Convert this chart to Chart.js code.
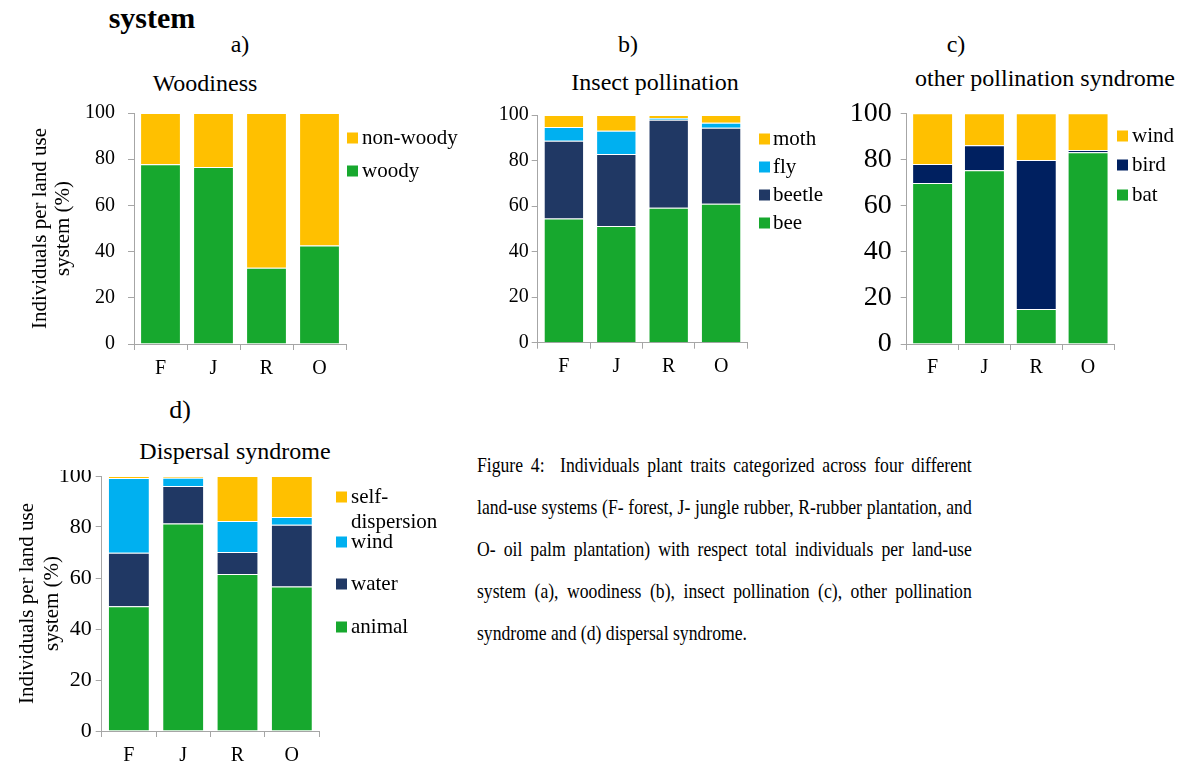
<!DOCTYPE html>
<html><head><meta charset="utf-8">
<script src="https://cdn.jsdelivr.net/npm/chart.js@4"></script>
<style>
body{margin:0;width:1181px;height:767px;background:#fff;position:relative;overflow:hidden;font-family:"Liberation Serif","Tinos","Times New Roman","DejaVu Serif",serif;color:#000}
canvas{position:absolute}
.t{position:absolute;white-space:nowrap;transform:translate(-50%,-50%);line-height:1}
#cap{position:absolute;left:477px;top:444px;width:589px;font-size:21px;line-height:42px;transform:scaleX(0.84);transform-origin:0 0}
#cap div{text-align:justify;text-align-last:justify;white-space:nowrap}
#cap div.last{text-align-last:left}
</style></head>
<body>
<div class="t" style="left:152px;top:18px;font-size:30px;font-weight:bold">system</div>
<div class="t" style="left:240px;top:44px;font-size:24px">a)</div>
<div class="t" style="left:628px;top:44px;font-size:24px">b)</div>
<div class="t" style="left:956px;top:44px;font-size:24px">c)</div>
<div class="t" style="left:180px;top:410px;font-size:26px">d)</div>
<div class="t" style="left:205px;top:83px;font-size:24px">Woodiness</div>
<div class="t" style="left:655px;top:82px;font-size:24px">Insect pollination</div>
<div class="t" style="left:1045px;top:78px;font-size:24px">other pollination syndrome</div>
<div class="t" style="left:235px;top:451px;font-size:24px">Dispersal syndrome</div>
<div id="cap">
<div>Figure 4:&nbsp; Individuals plant traits categorized across four different</div>
<div>land-use systems (F- forest, J- jungle rubber, R-rubber plantation, and</div>
<div>O- oil palm plantation) with respect total individuals per land-use</div>
<div>system (a), woodiness (b), insect pollination (c), other pollination</div>
<div class="last">syndrome and (d) dispersal syndrome.</div>
</div>
<canvas id="ca" width="470" height="290" style="left:0px;top:100px"></canvas>
<canvas id="cb" width="360" height="290" style="left:470px;top:100px"></canvas>
<canvas id="cc" width="351" height="290" style="left:830px;top:100px"></canvas>
<canvas id="cd" width="460" height="297" style="left:0px;top:470px"></canvas>
<script>
// ---- data ----
const categories = ['F', 'J', 'R', 'O'];
const woody    = [77.8, 76.6, 33.0, 42.6];
const nonWoody = [22.2, 23.4, 67.0, 57.4];
const bee    = [54.5, 51.3, 59.3, 61.0];
const beetle = [34.2, 31.6, 38.6, 33.4];
const fly    = [6.0, 10.2, 0.8, 2.2];
const moth   = [5.3, 6.9, 1.3, 3.4];
const bat      = [69.8, 75.3, 15.2, 83.1];
const bird     = [8.2, 10.8, 64.6, 1.0];
const windPoll = [22.0, 13.9, 20.2, 15.9];
const animal   = [48.9, 81.4, 61.6, 56.7];
const water    = [21.0, 14.7, 8.6, 24.2];
const windDisp = [29.3, 3.2, 12.2, 3.0];
const selfDisp = [0.8, 0.7, 17.6, 16.1];
const yTitleLines = ['Individuals per land use', 'system (%)'];

// ---- style ----
const FONT = '"Liberation Serif","Tinos","Times New Roman","DejaVu Serif",serif';
const GREEN = '#17a82e', ORANGE = '#ffc000', NAVY = '#203864', NAVY2 = '#002060', SKY = '#00b0f0';
const AX = '#a6a6a6';

const legendPlugin = {
  id: 'sideLegend',
  afterDraw(chart, args, o) {
    if (!o || !o.ys) return;
    const ctx = chart.ctx;
    ctx.save();
    ctx.font = o.size + 'px ' + FONT;
    ctx.textBaseline = 'middle';
    const ds = chart.data.datasets;
    const order = ds.map((d, i) => i).reverse();
    order.forEach((di, k) => {
      const y = o.ys[k] - o.T;
      ctx.fillStyle = ds[di].backgroundColor;
      ctx.fillRect(o.boxX - o.L, y - 5.5, 11, 11);
      ctx.fillStyle = '#000';
      const lines = Array.isArray(ds[di].label) ? ds[di].label : [ds[di].label];
      lines.forEach((ln, j) => ctx.fillText(ln, o.textX - o.L, y + j * o.lh));
    });
    ctx.restore();
  }
};

function zeroPad(s) { s.paddingTop = 0; s.paddingBottom = 0; s.paddingLeft = 0; s.paddingRight = 0; }

function makeChart(id, datasets, c) {
  return new Chart(document.getElementById(id), {
    type: 'bar',
    data: { labels: categories, datasets: datasets.map(d => Object.assign({
      barPercentage: c.barPct, categoryPercentage: 1.0, borderWidth: 1,
      borderColor: 'rgba(255,255,255,0.3)' }, d)) },
    options: {
      responsive: false, animation: false,
      layout: { padding: { left: 0, top: c.padTop, right: c.padRight, bottom: 0 } },
      plugins: { legend: { display: false }, tooltip: { enabled: false }, title: { display: false },
        sideLegend: c.legend },
      scales: {
        x: {
          stacked: true,
          grid: { offset: true, drawOnChartArea: false, drawTicks: true, tickLength: 6, color: AX },
          border: { display: true, color: AX, width: 1 },
          ticks: { color: '#000', padding: c.xPad, font: { family: FONT, size: c.xFont } },
          afterFit(s) { s.height = c.xH; zeroPad(s); }
        },
        y: {
          stacked: true, min: 0, max: 100,
          grid: { drawOnChartArea: false, drawTicks: true, tickLength: 6, color: AX },
          border: { display: true, color: AX, width: 1 },
          ticks: { stepSize: 20, color: '#000', padding: c.yPad, font: { family: FONT, size: c.yFont } },
          title: c.yTitle ? { display: true, text: yTitleLines, color: '#000',
            font: { family: FONT, size: 21, lineHeight: c.yTitleLH }, padding: { top: c.yTitlePad, bottom: 0 } } : { display: false },
          afterFit(s) { s.width = c.yW; zeroPad(s); }
        }
      }
    },
    plugins: [legendPlugin]
  });
}

// a) Woodiness
makeChart('ca', [
  { label: 'woody', data: woody, backgroundColor: GREEN },
  { label: 'non-woody', data: nonWoody, backgroundColor: ORANGE }
], { padTop: 13, padRight: 124, yW: 134, xH: 46, barPct: 0.77, xPad: 7, yPad: 13, xFont: 20, yFont: 20,
     yTitle: true, yTitleLH: 1.1, yTitlePad: 28.5,
     legend: { L: 0, T: 100, boxX: 347, textX: 362, ys: [138, 171], size: 21, lh: 25 } });

// b) Insect pollination
makeChart('cb', [
  { label: 'bee', data: bee, backgroundColor: GREEN },
  { label: 'beetle', data: beetle, backgroundColor: NAVY },
  { label: 'fly', data: fly, backgroundColor: SKY },
  { label: 'moth', data: moth, backgroundColor: ORANGE }
], { padTop: 15, padRight: 82.7, yW: 67.7, xH: 47.3, barPct: 0.77, xPad: 6, yPad: 3, xFont: 20, yFont: 20,
     yTitle: false,
     legend: { L: 470, T: 100, boxX: 759, textX: 773, ys: [139, 167, 195, 223], size: 21, lh: 25 } });

// c) other pollination syndrome
makeChart('cc', [
  { label: 'bat', data: bat, backgroundColor: GREEN },
  { label: 'bird', data: bird, backgroundColor: NAVY2 },
  { label: 'wind', data: windPoll, backgroundColor: ORANGE }
], { padTop: 13.3, padRight: 67, yW: 76.7, xH: 46, barPct: 0.79, xPad: 6, yPad: 9, xFont: 20, yFont: 28,
     yTitle: false,
     legend: { L: 830, T: 100, boxX: 1117, textX: 1132, ys: [136, 165, 195], size: 21, lh: 25 } });

// d) Dispersal syndrome
makeChart('cd', [
  { label: 'animal', data: animal, backgroundColor: GREEN },
  { label: 'water', data: water, backgroundColor: NAVY },
  { label: 'wind', data: windDisp, backgroundColor: SKY },
  { label: ['self-', 'dispersion'], data: selfDisp, backgroundColor: ORANGE }
], { padTop: 6, padRight: 141, yW: 101.7, xH: 36, barPct: 0.77, xPad: 6.5, yPad: 4, xFont: 20, yFont: 22,
     yTitle: true, yTitleLH: 1.19, yTitlePad: 14.5,
     legend: { L: 0, T: 470, boxX: 336, textX: 351, ys: [497, 542, 584, 627], size: 21, lh: 25.5 } });
</script>
</body></html>
